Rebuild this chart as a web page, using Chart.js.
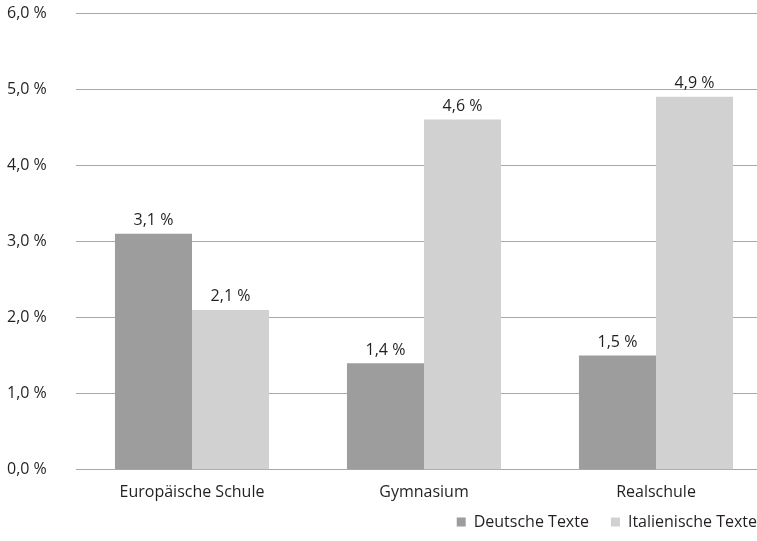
<!DOCTYPE html>
<html>
<head>
<meta charset="utf-8">
<script src="https://cdn.jsdelivr.net/npm/chart.js@4"></script>
<style>
    html, body { margin: 0; padding: 0; background: #fff; overflow: hidden; }
    #wrap { width: 772px; height: 541px; }
</style>
</head>
<body>
<div id="wrap"><canvas id="chart"></canvas></div>
<script>
const schools = ['Europäische Schule', 'Gymnasium', 'Realschule'];
const deutscheTexte = [3.1, 1.4, 1.5];
const italienischeTexte = [2.1, 4.6, 4.9];
const yTicks = [0, 1, 2, 3, 4, 5, 6];

const fontFamily = "'Open Sans', 'Noto Sans', sans-serif";
const textColor = '#231f20';

function fmt(v) {
    return v.toFixed(1).replace('.', ',') + ' %';
}

// draw the value above each bar
const barLabels = {
    id: 'barLabels',
    afterDatasetsDraw(chart) {
        const ctx = chart.ctx;
        ctx.save();
        ctx.font = '16px ' + fontFamily;
        ctx.fillStyle = textColor;
        ctx.textAlign = 'center';
        ctx.textBaseline = 'bottom';
        chart.data.datasets.forEach((ds, i) => {
            chart.getDatasetMeta(i).data.forEach((bar, j) => {
                ctx.fillText(fmt(ds.data[j]), bar.x, bar.y - 5);
            });
        });
        ctx.restore();
    }
};

// the plot runs past the right edge of the window, keep the legend inside it
const legendShift = {
    id: 'legendShift',
    afterLayout(chart) {
        const lg = chart.legend;
        const h = lg.bottom - lg.top;
        lg.left += 7;
        lg.right += 7;
        lg.top = 492;
        lg.bottom = 492 + h;
    }
};

new Chart(document.getElementById('chart'), {
    type: 'bar',
    data: {
        labels: schools,
        datasets: [{
            label: 'Deutsche Texte',
            data: deutscheTexte,
            backgroundColor: '#9d9d9d',
            categoryPercentage: 0.664,
            barPercentage: 1.0
        }, {
            label: 'Italienische Texte',
            data: italienischeTexte,
            backgroundColor: '#d1d1d1',
            categoryPercentage: 0.664,
            barPercentage: 1.0
        }]
    },
    options: {
        responsive: true,
        maintainAspectRatio: false,
        animation: false,
        layout: { padding: { left: 7, right: 0, top: 13, bottom: -22 } },
        scales: {
            x: {
                grid: { display: false, drawTicks: false },
                border: { display: false },
                ticks: { color: textColor, font: { family: fontFamily, size: 16 }, padding: 13 }
            },
            y: {
                min: 0,
                max: 6,
                afterFit(scale) { scale.width = 69; },
                afterBuildTicks(scale) { scale.ticks = yTicks.map(v => ({ value: v })); },
                grid: { color: '#a8a8a8', lineWidth: 1, drawTicks: false },
                border: { display: false },
                ticks: {
                    color: textColor,
                    crossAlign: 'far',
                    font: { family: fontFamily, size: 16 },
                    callback: v => fmt(v)
                }
            }
        },
        plugins: {
            legend: {
                position: 'bottom',
                align: 'end',
                labels: {
                    color: textColor,
                    font: { family: fontFamily, size: 16 },
                    boxWidth: 9,
                    boxHeight: 9,
                    padding: 22
                }
            },
            tooltip: { enabled: false }
        }
    },
    plugins: [barLabels, legendShift]
});
</script>
</body>
</html>
